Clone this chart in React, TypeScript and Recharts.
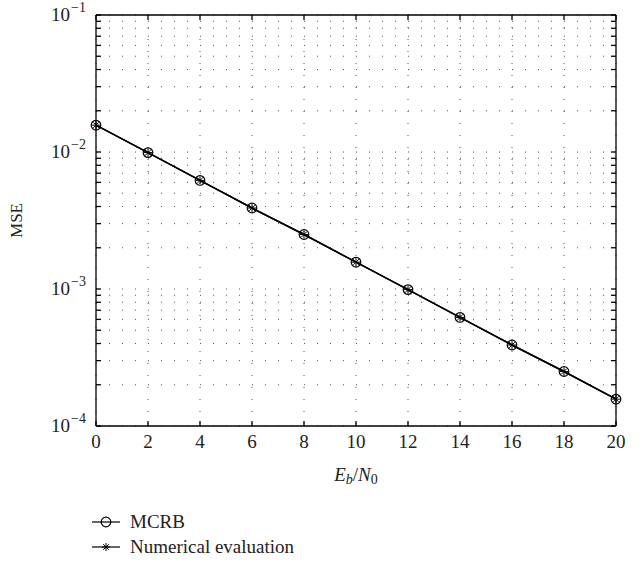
import React from 'react';
import { LineChart, Line, XAxis, YAxis, CartesianGrid, Legend, Label } from 'recharts';

const snr = [0, 2, 4, 6, 8, 10, 12, 14, 16, 18, 20];
const mcrb = [0.0157, 0.0099, 0.0062, 0.0039, 0.0025, 0.00157, 0.00099, 0.00062, 0.00039, 0.00025, 0.000157];
const numerical = [0.0157, 0.0099, 0.0062, 0.0039, 0.0025, 0.00157, 0.00099, 0.00062, 0.00039, 0.00025, 0.000157];

const xTicks = [0, 2, 4, 6, 8, 10, 12, 14, 16, 18, 20];
const decadeTicks = [1e-4, 1e-3, 1e-2, 1e-1];
const logTicks = [
    1e-4, 2e-4, 3e-4, 4e-4, 5e-4, 6e-4, 7e-4, 8e-4, 9e-4,
    1e-3, 2e-3, 3e-3, 4e-3, 5e-3, 6e-3, 7e-3, 8e-3, 9e-3,
    1e-2, 2e-2, 3e-2, 4e-2, 5e-2, 6e-2, 7e-2, 8e-2, 9e-2,
    1e-1,
];

const data = snr.map((x, i) => ({ x, mcrb: mcrb[i], numerical: numerical[i] }));

const FONT = '"Liberation Serif", "DejaVu Serif", serif';

const isDecade = (v: number) => decadeTicks.some(d => Math.abs(d - v) / d < 1e-6);

const CircleDot = (props: any) => {
    const { cx, cy } = props;
    if (cx == null || cy == null) return null;
    return <circle cx={cx} cy={cy} r={4.8} fill="none" stroke="#000" strokeWidth={1.2} />;
};

const StarDot = (props: any) => {
    const { cx, cy } = props;
    if (cx == null || cy == null) return null;
    const r = 4;
    const d = r * 0.7;
    return (
        <g stroke="#000" strokeWidth={1}>
            <line x1={cx - r} y1={cy} x2={cx + r} y2={cy} />
            <line x1={cx} y1={cy - r} x2={cx} y2={cy + r} />
            <line x1={cx - d} y1={cy - d} x2={cx + d} y2={cy + d} />
            <line x1={cx - d} y1={cy + d} x2={cx + d} y2={cy - d} />
        </g>
    );
};

const YTick = (props: any) => {
    const { x, y, payload } = props;
    if (!isDecade(payload.value)) return <g />;
    const exp = Math.round(Math.log10(payload.value));
    return (
        <g fontFamily={FONT} fill="#222">
            <text x={x - 16} y={y + 6} textAnchor="end" fontSize={19}>10</text>
            <text x={x - 15} y={y - 3} textAnchor="start" fontSize={14}>{'\u2212' + Math.abs(exp)}</text>
        </g>
    );
};

const XTick = (props: any) => {
    const { x, y, payload } = props;
    return (
        <text x={x} y={y + 17} textAnchor="middle" fontFamily={FONT} fontSize={19} fill="#222">
            {payload.value}
        </text>
    );
};

const Empty = () => <g />;

const LegendContent = () => (
    <svg width={280} height={54}>
        <g fontFamily={FONT} fontSize={19} fill="#222">
            <line x1={0} y1={10} x2={28} y2={10} stroke="#000" strokeWidth={1.2} />
            <CircleDot cx={14} cy={10} />
            <text x={38} y={16}>MCRB</text>
            <line x1={0} y1={35} x2={28} y2={35} stroke="#000" strokeWidth={1.2} />
            <StarDot cx={14} cy={35} />
            <text x={38} y={41}>Numerical evaluation</text>
        </g>
    </svg>
);

export default function App() {
    return (
        <div style={{ position: 'absolute', top: 0, left: 0, width: 642, height: 563, overflow: 'visible' }}>
            <LineChart
                width={642}
                height={563}
                data={data}
                margin={{ top: 14, right: 25, bottom: 67, left: 36 }}
                style={{ overflow: 'visible' }}
            >
                <CartesianGrid
                    horizontal={true}
                    vertical={false}
                    horizontalValues={logTicks}
                    stroke="#555"
                    strokeDasharray="1 12"
                />
                <CartesianGrid
                    horizontal={false}
                    vertical={true}
                    verticalValues={xTicks}
                    stroke="#555"
                    strokeDasharray="1 11"
                />
                <XAxis
                    dataKey="x"
                    type="number"
                    domain={[0, 20]}
                    ticks={xTicks}
                    height={70}
                    tickSize={-5}
                    tickMargin={10}
                    tick={<XTick />}
                    stroke="#000"
                    strokeWidth={1.3}
                    interval={0}
                >
                    <Label
                        content={(p: any) => {
                            const vb = p.viewBox;
                            return (
                                <text x={vb.x + vb.width / 2} y={vb.y + 55} textAnchor="middle" fontFamily={FONT} fontSize={19} fill="#222">
                                    <tspan fontStyle="italic">E</tspan>
                                    <tspan fontStyle="italic" fontSize={14} dy={3}>b</tspan>
                                    <tspan dy={-3}>/</tspan>
                                    <tspan fontStyle="italic">N</tspan>
                                    <tspan fontSize={14} dy={3}>0</tspan>
                                </text>
                            );
                        }}
                    />
                </XAxis>
                <XAxis
                    xAxisId="top"
                    dataKey="x"
                    type="number"
                    orientation="top"
                    domain={[0, 20]}
                    ticks={xTicks}
                    height={1}
                    tickSize={-5}
                    tick={<Empty />}
                    stroke="#000"
                    strokeWidth={1.3}
                    interval={0}
                />
                <YAxis
                    scale="log"
                    type="number"
                    domain={[1e-4, 1e-1]}
                    ticks={logTicks}
                    allowDataOverflow
                    width={60}
                    tickSize={-5}
                    tickMargin={15}
                    tick={<YTick />}
                    stroke="#000"
                    strokeWidth={1.3}
                    interval={0}
                >
                    <Label
                        content={(p: any) => {
                            const vb = p.viewBox;
                            const cx = vb.x - 14;
                            const cy = vb.y + vb.height / 2;
                            return (
                                <text x={cx} y={cy} textAnchor="middle" fontFamily={FONT} fontSize={17} fill="#222" transform={`rotate(-90 ${cx} ${cy})`}>
                                    MSE
                                </text>
                            );
                        }}
                    />
                </YAxis>
                <YAxis
                    yAxisId="right"
                    orientation="right"
                    scale="log"
                    type="number"
                    domain={[1e-4, 1e-1]}
                    ticks={logTicks}
                    allowDataOverflow
                    width={1}
                    tickSize={-5}
                    tick={<Empty />}
                    stroke="#000"
                    strokeWidth={1.3}
                    interval={0}
                />
                <Legend
                    layout="vertical"
                    verticalAlign="middle"
                    align="center"
                    content={<LegendContent />}
                    wrapperStyle={{ position: 'absolute', left: 92, top: 512, width: 280, height: 54 }}
                />
                <Line
                    dataKey="mcrb"
                    name="MCRB"
                    stroke="#000"
                    strokeWidth={1.5}
                    dot={<CircleDot />}
                    isAnimationActive={false}
                />
                <Line
                    dataKey="numerical"
                    name="Numerical evaluation"
                    stroke="#000"
                    strokeWidth={1.5}
                    dot={<StarDot />}
                    isAnimationActive={false}
                />
            </LineChart>
        </div>
    );
}
